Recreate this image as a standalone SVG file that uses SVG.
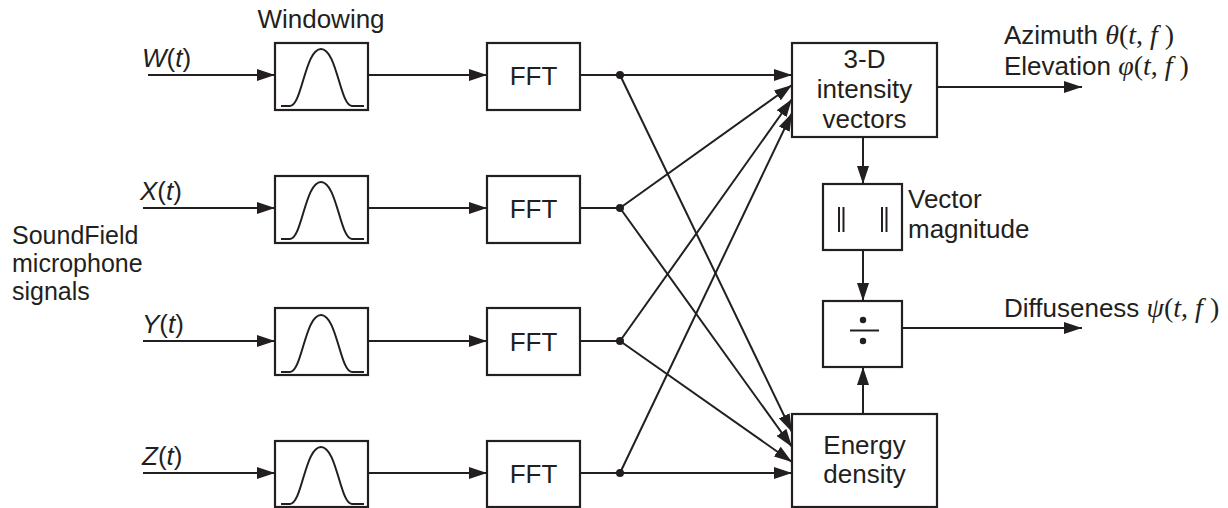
<svg xmlns="http://www.w3.org/2000/svg" width="1228" height="508" viewBox="0 0 1228 508">
<defs>
<marker id="ah" markerUnits="userSpaceOnUse" markerWidth="18" markerHeight="12" refX="18" refY="6" orient="auto" viewBox="0 0 18 12">
<path d="M0,0 L18,6 L0,12 z" fill="#231f20"/>
</marker>
<path id="bell" d="M-40,31 L-31,31 C-19,31 -16,-26 0,-26 C16,-26 19,31 31,31 L43,31" fill="none" stroke="#231f20" stroke-width="2"/>
</defs>
<style>
.box{fill:#fff;stroke:#231f20;stroke-width:2.2}
.ln{fill:none;stroke:#231f20;stroke-width:2}
.ar{fill:none;stroke:#231f20;stroke-width:2;marker-end:url(#ah)}
.t{font-family:"Liberation Sans",Arial,sans-serif;font-size:26px;fill:#231f20}
.s{font-size:25px}
.c{text-anchor:middle}
.m{font-family:"Liberation Serif","Times New Roman",serif;font-size:28px;fill:#231f20}
.i{font-style:italic}
.dot{fill:#231f20}
</style>
<rect width="1228" height="508" fill="#fff"/>

<g id="connectors">
<line class="ar" x1="148" y1="75" x2="275" y2="75"/>
<line class="ar" x1="143" y1="208" x2="275" y2="208"/>
<line class="ar" x1="143" y1="341" x2="275" y2="341"/>
<line class="ar" x1="143" y1="473" x2="275" y2="473"/>
<line class="ar" x1="368" y1="75" x2="487" y2="75"/>
<line class="ar" x1="368" y1="208" x2="487" y2="208"/>
<line class="ar" x1="368" y1="341" x2="487" y2="341"/>
<line class="ar" x1="368" y1="473" x2="487" y2="473"/>
<line class="ln" x1="580" y1="75" x2="620" y2="75"/>
<line class="ln" x1="580" y1="208" x2="620" y2="208"/>
<line class="ln" x1="580" y1="341" x2="620" y2="341"/>
<line class="ln" x1="580" y1="473" x2="620" y2="473"/>
<circle class="dot" cx="620" cy="75" r="4"/>
<circle class="dot" cx="620" cy="208" r="4"/>
<circle class="dot" cx="620" cy="341" r="4"/>
<circle class="dot" cx="620" cy="473" r="4"/>
<line class="ar" x1="620" y1="75" x2="792" y2="75"/>
<line class="ar" x1="620" y1="208" x2="792" y2="85"/>
<line class="ar" x1="620" y1="341" x2="792" y2="99"/>
<line class="ar" x1="620" y1="473" x2="792" y2="113"/>
<line class="ar" x1="620" y1="75" x2="792" y2="432"/>
<line class="ar" x1="620" y1="208" x2="792" y2="447"/>
<line class="ar" x1="620" y1="341" x2="792" y2="462"/>
<line class="ar" x1="620" y1="473" x2="792" y2="473"/>
<line class="ar" x1="937" y1="87" x2="1082" y2="87"/>
<line class="ar" x1="863" y1="137" x2="863" y2="184"/>
<line class="ar" x1="863" y1="250" x2="863" y2="301"/>
<line class="ar" x1="863" y1="414" x2="863" y2="367"/>
<line class="ar" x1="902" y1="328" x2="1082" y2="328"/>
</g>

<g id="labels-inputs">
<text class="t" x="142" y="67"><tspan class="i">W</tspan>(<tspan class="i">t</tspan>)</text>
<text class="t" x="140" y="200"><tspan class="i">X</tspan>(<tspan class="i">t</tspan>)</text>
<text class="t" x="142" y="333"><tspan class="i">Y</tspan>(<tspan class="i">t</tspan>)</text>
<text class="t" x="142" y="465"><tspan class="i">Z</tspan>(<tspan class="i">t</tspan>)</text>
<text class="t s" x="12" y="244">SoundField</text>
<text class="t s" x="12" y="272">microphone</text>
<text class="t s" x="12" y="300">signals</text>
<text class="t c" x="321" y="28">Windowing</text>
</g>

<g id="win-w"><rect class="box" x="275" y="43" width="93" height="67"/><use href="#bell" x="321" y="75"/></g>
<g id="win-x"><rect class="box" x="275" y="176" width="93" height="67"/><use href="#bell" x="321" y="208"/></g>
<g id="win-y"><rect class="box" x="275" y="308" width="93" height="67"/><use href="#bell" x="321" y="341"/></g>
<g id="win-z"><rect class="box" x="275" y="441" width="93" height="66"/><use href="#bell" x="321" y="473"/></g>

<g id="fft-w"><rect class="box" x="487" y="43" width="93" height="67"/><text class="t c" x="533.5" y="85">FFT</text></g>
<g id="fft-x"><rect class="box" x="487" y="176" width="93" height="67"/><text class="t c" x="533.5" y="218">FFT</text></g>
<g id="fft-y"><rect class="box" x="487" y="308" width="93" height="67"/><text class="t c" x="533.5" y="351">FFT</text></g>
<g id="fft-z"><rect class="box" x="487" y="441" width="93" height="66"/><text class="t c" x="533.5" y="483">FFT</text></g>

<g id="intensity">
<rect class="box" x="792" y="43" width="145" height="94"/>
<text class="t c" x="864.5" y="68">3-D</text>
<text class="t c" x="864.5" y="98">intensity</text>
<text class="t c" x="864.5" y="128">vectors</text>
</g>

<g id="magnitude">
<rect class="box" x="823" y="184" width="79" height="66"/>
<line class="ln" x1="839" y1="207" x2="839" y2="232"/>
<line class="ln" x1="843.5" y1="207" x2="843.5" y2="232"/>
<line class="ln" x1="882" y1="207" x2="882" y2="232"/>
<line class="ln" x1="886.5" y1="207" x2="886.5" y2="232"/>
<text class="t" x="908" y="208">Vector</text>
<text class="t" x="908" y="238">magnitude</text>
</g>

<g id="divide">
<rect class="box" x="823" y="301" width="79" height="66"/>
<circle class="dot" cx="863" cy="320" r="3.2"/>
<line class="ln" x1="850" y1="330.5" x2="879" y2="330.5"/>
<circle class="dot" cx="863" cy="341" r="3.2"/>
</g>

<g id="energy">
<rect class="box" x="792" y="414" width="145" height="93"/>
<text class="t c" x="864.5" y="454">Energy</text>
<text class="t c" x="864.5" y="483">density</text>
</g>

<g id="outputs">
<text class="t" x="1004" y="44">Azimuth <tspan class="m"><tspan class="i">θ</tspan>(<tspan class="i">t</tspan>, <tspan class="i">f</tspan> )</tspan></text>
<text class="t" x="1004" y="75">Elevation <tspan class="m"><tspan class="i">φ</tspan>(<tspan class="i">t</tspan>, <tspan class="i">f</tspan> )</tspan></text>
<text class="t" x="1004" y="317">Diffuseness <tspan class="m"><tspan class="i">ψ</tspan>(<tspan class="i">t</tspan>, <tspan class="i">f</tspan> )</tspan></text>
</g>
</svg>
